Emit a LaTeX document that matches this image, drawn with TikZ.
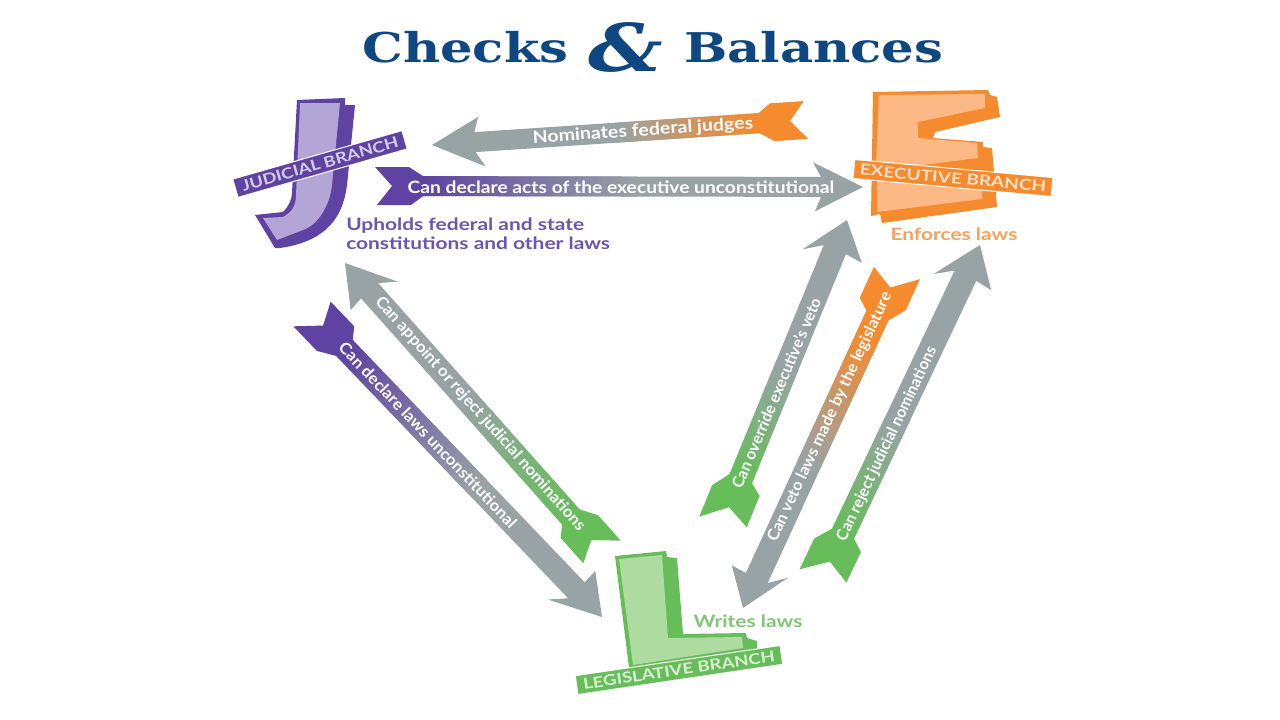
\documentclass[tikz,border=0pt]{standalone}
\usepackage{fontspec}
\setmainfont{Lato}
\newfontfamily\titlefont{DejaVu Serif}
\definecolor{navy}{HTML}{0F4780}
\definecolor{arrowgrey}{HTML}{98A3A6}
\definecolor{jdark}{HTML}{5F43A3}
\definecolor{jlight}{HTML}{B3A6D6}
\definecolor{jtext}{HTML}{6C55AB}
\definecolor{edark}{HTML}{F58A2E}
\definecolor{elight}{HTML}{FDB985}
\definecolor{etext}{HTML}{F3A260}
\definecolor{ldark}{HTML}{66BD5A}
\definecolor{llight}{HTML}{AEDB9F}
\definecolor{ltext}{HTML}{7FC676}
\tikzset{
  x=1pt,y=-1pt,
  arrowlabel/.style={text=white,font=\bfseries\fontsize{16}{16}\selectfont,inner sep=0pt},
  flatlabel/.style={text=white,font=\bfseries\fontsize{17}{17}\selectfont,inner sep=0pt},
  banner/.style={draw=white,line width=1pt,inner sep=0pt,minimum height=19pt,font=\bfseries\fontsize{15}{15}\selectfont},
  note/.style={font=\bfseries\fontsize{17}{17}\selectfont,inner sep=0pt,xscale=1.23},
  titletext/.style={text=navy,inner sep=0pt,xscale=1.25,font=\titlefont\bfseries\fontsize{41}{41}\selectfont},
}
\pgfqkeys{/fl}{hl/.store in=\flhl,hs/.store in=\flhs,sw/.store in=\flsw,hw/.store in=\flhw,
  tw/.store in=\fltw,ts/.store in=\flts,gs/.store in=\flgs,ge/.store in=\flge,
  hl=45,hs=0,sw=11,hw=27,tw=22,ts=0,gs=50,ge=200}
\newcommand{\fletched}[6][]{%
  \begingroup
  \pgfqkeys{/fl}{#1}%
  \pgfmathsetmacro{\axdx}{#4-#2}\pgfmathsetmacro{\axdy}{#5-#3}%
  \pgfmathsetmacro{\axL}{veclen(\axdx,\axdy)}%
  \pgfmathsetmacro{\axA}{atan2(-\axdy,\axdx)}%
  \pgfmathsetmacro{\hbP}{\axL-\flhl-\flhs}%
  \pgfmathsetmacro{\hbM}{\axL-\flhl+\flhs}%
  \pgfmathsetmacro{\nk}{\axL-\flhl+7}%
  \pgfmathsetmacro{\tP}{0-\flts}\pgfmathsetmacro{\tM}{0+\flts}%
  \pgfmathsetmacro{\sP}{34-\flts}\pgfmathsetmacro{\sM}{34+\flts}%
  \pgfmathsetmacro{\gee}{\flge+1}%
  \begin{scope}[transform canvas={shift={(#2,#3)},rotate=\axA}]
    \fill[arrowgrey] (\axL pt,0pt) -- (\hbP pt,\flhw pt) -- (\nk pt,\flsw pt) -- (34pt,\flsw pt)
       -- (34pt,-\flsw pt) -- (\nk pt,-\flsw pt) -- (\hbM pt,-\flhw pt) -- cycle;
    \fill[#6] (\flgs pt,\flsw pt) -- (47pt,\flsw pt) -- (\sP pt,\fltw pt) -- (\tP pt,\fltw pt) -- (16pt,0pt)
       -- (\tM pt,-\fltw pt) -- (\sM pt,-\fltw pt) -- (47pt,-\flsw pt) -- (\flgs pt,-\flsw pt) -- cycle;
    \shade[left color=#6,right color=arrowgrey] (\flgs pt,-\flsw pt) rectangle (\gee pt,\flsw pt);
  \end{scope}%
  \endgroup
}
\begin{document}
\begin{tikzpicture}
\useasboundingbox (0,0) rectangle (1280,720);
\fill[white] (0,0) rectangle (1280,720);

% title
\node[titletext,anchor=base west] (checks) at (362,62) {Checks};
\node[titletext,anchor=base west,font=\titlefont\bfseries\itshape\fontsize{66}{66}\selectfont] (amp) at (588,71) {\&};
\node[titletext,anchor=base west] (balances) at (684,62) {Balances};

% arrows
\fletched[hl=50,hs=2,sw=10,hw=25,tw=19,ts=1,gs=55,ge=190]{806}{120}{432}{145}{edark}
\fletched[hl=49,hs=1,sw=10,hw=24.5,tw=19,ts=1,gs=50,ge=260]{376}{186}{863}{187}{jdark}
\fletched[hl=39,hs=5,sw=12,hw=30,tw=24,ts=4,gs=50,ge=170]{723}{522}{847}{220}{ldark}
\fletched[hl=40,hs=6,sw=12,hw=28,tw=23.5,ts=4,gs=70,ge=210]{897}{273}{743}{608}{edark}
\fletched[hl=41,hs=5,sw=12,hw=29.5,tw=24,ts=4,gs=50,ge=170]{823}{576}{980}{245}{ldark}
\fletched[hl=44,hs=-5,sw=11.5,hw=27,tw=21.5,ts=-4,gs=50,ge=210]{602}{552}{345}{263}{ldark}
\fletched[hl=44,hs=-6,sw=11.5,hw=27,tw=22,ts=-4,gs=50,ge=240]{312}{314}{602}{617}{jdark}

% arrow labels
\node[flatlabel,rotate=3.8,xscale=1.15] (nom) at (643,131) {Nominates federal judges};
\node[flatlabel,xscale=1.13] (acts) at (621,187) {Can declare acts of the executive unconstitutional};
\node[arrowlabel,rotate=67,xscale=.98] (over) at (776,393) {Can override executive's veto};
\node[arrowlabel,rotate=65,xscale=1.02] (veto) at (830,417) {Can veto laws made by the legislature};
\node[arrowlabel,rotate=64.6,xscale=.975] (rej) at (887,444) {Can reject judicial nominations};
\node[arrowlabel,rotate=-48.4,xscale=1.04] (app) at (480,414) {Can appoint or reject judicial nominations};
\node[arrowlabel,rotate=-46.3,xscale=1.04] (dec) at (428,435) {Can declare laws unconstitutional};

% J
\fill[jdark] (297,100) -- (345,98) -- (345,105) -- (355,105) -- (348,175)
  .. controls (346,205) and (337,240) .. (280,248) -- (275,248) -- (255,215) -- (283,212)
  .. controls (288,207) and (292,200) .. (292,193) -- cycle;
\fill[jlight] (300,103) -- (340,103) -- (332,185) .. controls (330,205) and (318,225) .. (303,230)
  -- (277,240) -- (263,218) -- (283,217) .. controls (290,213) and (296,208) .. (296,195) -- cycle;
\node[banner,fill=jdark,text=jlight!55!white,rotate=16,minimum width=176pt] (judicial) at (320,164) {\scalebox{1.22}[1]{JUDICIAL BRANCH}};
\node[note,text=jtext,anchor=west] (up1) at (346,226) {Upholds federal and state};
\node[note,text=jtext,anchor=west] (up2) at (346,243) {constitutions and other laws};

% E
\fill[edark] (873,92) -- (988,90) -- (990,95) -- (997,97) -- (1000,117) -- (935,132) -- (933,138)
  -- (983,142) -- (983,147) -- (992,148) -- (997,207) -- (882,223) -- (880,214) -- (871,216) -- cycle;
\fill[elight] (879,95) -- (985,94) -- (985,108) -- (918,122) -- (918,138) -- (977,143) -- (978,158)
  -- (915,166) -- (876,166) -- cycle;
\fill[elight] (877,180) -- (982,190) -- (982,199) -- (877,212) -- cycle;
\node[banner,fill=edark,text=elight!45!white,rotate=-5.2,minimum width=199pt] (executive) at (953,178) {\scalebox{1.27}[1]{EXECUTIVE BRANCH}};
\node[note,text=etext] (enf) at (954,234) {Enforces laws};

% L
\fill[ldark] (615,556) -- (666,551) -- (667,557) -- (677,558) -- (683,634) -- (746,633) -- (747,638)
  -- (757,641) -- (757,648) -- (760,660) -- (630,675) -- cycle;
\fill[llight] (619,559) -- (662,555) -- (668,638) -- (742,637) -- (743,648) -- (633,665) -- cycle;
\node[banner,fill=ldark,text=llight!45!white,rotate=8.4,minimum width=207pt] (legislative) at (679,670) {\scalebox{1.24}[1]{LEGISLATIVE BRANCH}};
\node[note,text=ltext] (wri) at (748,621) {Writes laws};
\end{tikzpicture}
\end{document}
